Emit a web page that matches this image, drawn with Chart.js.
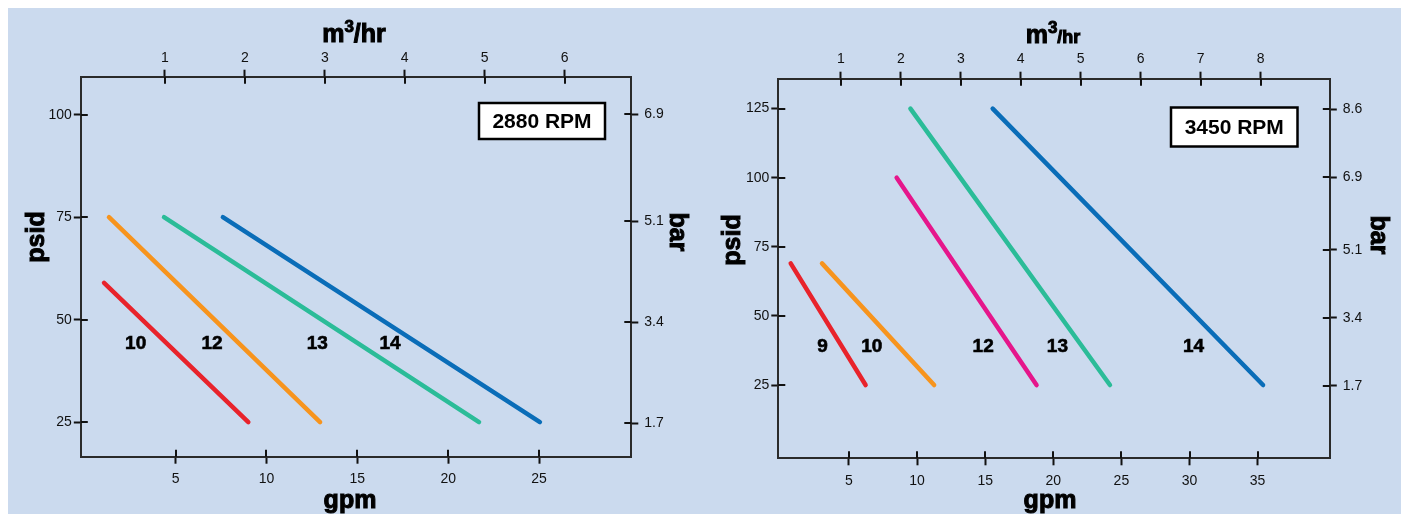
<!DOCTYPE html>
<html><head><meta charset="utf-8">
<script src="https://cdn.jsdelivr.net/npm/chart.js@4.4.1/dist/chart.umd.min.js"></script>
<style>
html,body{margin:0;padding:0;background:#fff;width:1401px;height:514px;overflow:hidden;}
#bg{position:absolute;left:8px;top:8px;width:1393px;height:506px;background:#cbdaee;}
.wrap{position:absolute;top:0;height:514px;}
canvas{display:block;}
</style></head><body>
<div id="bg"></div>
<div class="wrap" style="left:0;width:700px"><canvas id="c1" width="700" height="514"></canvas></div>
<div class="wrap" style="left:700px;width:701px"><canvas id="c2" width="701" height="514"></canvas></div>
<script>
// ---------- DATA ----------
const PSI_PER_BAR = 14.5038;
const GPM_PER_M3H = 4.40287;

// 2880 RPM chart
const leftRpm = '2880 RPM';
const leftSeries = ['10', '12', '13', '14'];
const leftStartGpm = [1.06, 1.33, 4.36, 7.6];
const leftStartPsi = [59, 75, 75, 75];
const leftEndGpm = [9.0, 12.95, 21.7, 25.05];
const leftEndPsi = [25, 25, 25, 25];
const leftLabelGpm = [2.8, 7.0, 12.8, 16.8];
const leftLabelPsi = [44, 44, 44, 44];
const leftGpmTicks = [5, 10, 15, 20, 25];
const leftM3Ticks = [1, 2, 3, 4, 5, 6];
const leftPsiTicks = [25, 50, 75, 100];
const leftBarTicks = ['1.7', '3.4', '5.1', '6.9'];

// 3450 RPM chart
const rightRpm = '3450 RPM';
const rightSeries = ['9', '10', '12', '13', '14'];
const rightStartGpm = [0.72, 3.02, 8.5, 9.51, 15.55];
const rightStartPsi = [69, 69, 100, 125, 125];
const rightEndGpm = [6.22, 11.25, 18.77, 24.16, 35.4];
const rightEndPsi = [25, 25, 25, 25, 25];
const rightLabelGpm = [3.05, 6.67, 14.85, 20.3, 30.3];
const rightLabelPsi = [39, 39, 39, 39, 39];
const rightGpmTicks = [5, 10, 15, 20, 25, 30, 35];
const rightM3Ticks = [1, 2, 3, 4, 5, 6, 7, 8];
const rightPsiTicks = [25, 50, 75, 100, 125];
const rightBarTicks = ['1.7', '3.4', '5.1', '6.9', '8.6'];

// ---------- STYLE ----------
const leftColors = ['#e8232b', '#f7941d', '#2bbc98', '#0a6db8'];
const rightColors = ['#e8232b', '#f7941d', '#e5168b', '#2bbc98', '#0a6db8'];
const FONT = '"Liberation Sans", Arial, Helvetica, sans-serif';
const INK = '#111';

function buildDatasets(sGpm, sPsi, eGpm, ePsi, names, colors) {
  return names.map((n, i) => ({
    label: n,
    data: [{x: sGpm[i], y: sPsi[i]}, {x: eGpm[i], y: ePsi[i]}],
    showLine: true, pointRadius: 0, borderWidth: 4.5,
    borderColor: colors[i], borderCapStyle: 'round', fill: false,
    xAxisID: 'x', yAxisID: 'y'
  }));
}

function setTicks(arr) {
  return (axis) => { axis.ticks = arr.map(v => ({value: Number(v)})); };
}
function labelsFrom(arr) {
  return (value, index) => String(arr[index]);
}

function makeScales(cfg) {
  const tickFont = {family: FONT, size: 14};
  const grid = {drawOnChartArea: false, drawTicks: true, tickLength: 7, tickWidth: 2, tickColor: INK};
  const border = {display: true, color: '#2a2a2a', width: 2};
  return {
    x: {
      type: 'linear', position: 'bottom', min: cfg.gpm[0], max: cfg.gpm[1],
      afterBuildTicks: setTicks(cfg.gpmTicks),
      afterFit: (s) => { s.height = cfg.box.bottom; },
      grid, border,
      ticks: {font: tickFont, color: INK, padding: cfg.pad.bottom, maxRotation: 0, autoSkip: false,
              callback: labelsFrom(cfg.gpmTicks)}
    },
    xTop: {
      type: 'linear', position: 'top', min: cfg.gpm[0] / GPM_PER_M3H, max: cfg.gpm[1] / GPM_PER_M3H,
      afterBuildTicks: setTicks(cfg.m3Ticks),
      afterFit: (s) => { s.height = cfg.box.top; },
      grid, border,
      ticks: {font: tickFont, color: INK, padding: cfg.pad.top, maxRotation: 0, autoSkip: false,
              callback: labelsFrom(cfg.m3Ticks)}
    },
    y: {
      type: 'linear', position: 'left', min: cfg.psi[0], max: cfg.psi[1],
      afterBuildTicks: setTicks(cfg.psiTicks),
      afterFit: (s) => { s.width = cfg.box.left; },
      grid, border,
      ticks: {font: tickFont, color: INK, padding: cfg.pad.left, autoSkip: false,
              callback: labelsFrom(cfg.psiTicks)}
    },
    yBar: {
      type: 'linear', position: 'right', min: cfg.psi[0] / PSI_PER_BAR, max: cfg.psi[1] / PSI_PER_BAR,
      afterBuildTicks: setTicks(cfg.barTicks),
      afterFit: (s) => { s.width = cfg.box.right; },
      grid, border,
      ticks: {font: tickFont, color: INK, padding: cfg.pad.right, autoSkip: false,
              callback: labelsFrom(cfg.barTicks)}
    }
  };
}

function drawTitle(ctx, text, x, y, size, rot) {
  ctx.save();
  ctx.translate(x, y);
  ctx.rotate(rot);
  ctx.font = `bold ${size}px ${FONT}`;
  ctx.textAlign = 'center';
  ctx.textBaseline = 'middle';
  ctx.fillStyle = '#000';
  ctx.strokeStyle = '#000';
  ctx.lineWidth = 1;
  ctx.fillText(text, 0, 0);
  ctx.strokeText(text, 0, 0);
  ctx.restore();
}

function drawM3(ctx, cx, base, mSize, supSize, hrSize) {
  ctx.save();
  ctx.fillStyle = '#000'; ctx.strokeStyle = '#000'; ctx.lineWidth = 1;
  ctx.textBaseline = 'alphabetic'; ctx.textAlign = 'left';
  ctx.font = `bold ${mSize}px ${FONT}`; const wm = ctx.measureText('m').width;
  ctx.font = `bold ${supSize}px ${FONT}`; const w3 = ctx.measureText('3').width;
  ctx.font = `bold ${hrSize}px ${FONT}`; const wh = ctx.measureText('/hr').width;
  let x = cx - (wm + w3 + wh) / 2;
  ctx.font = `bold ${mSize}px ${FONT}`; ctx.fillText('m', x, base); ctx.strokeText('m', x, base); x += wm;
  ctx.font = `bold ${supSize}px ${FONT}`; ctx.fillText('3', x, base - mSize * 0.42); ctx.strokeText('3', x, base - mSize * 0.42); x += w3;
  ctx.font = `bold ${hrSize}px ${FONT}`; ctx.fillText('/hr', x, base); ctx.strokeText('/hr', x, base);
  ctx.restore();
}

const decor = {
  id: 'decor',
  afterDraw(chart, args, o) {
    const ctx = chart.ctx, ca = chart.chartArea, S = chart.scales;
    ctx.save();
    // inner halves of the tick marks
    ctx.strokeStyle = INK; ctx.lineWidth = 2;
    const inner = 7;
    S.x.ticks.forEach(t => { const p = Math.round(S.x.getPixelForValue(t.value)); ctx.beginPath(); ctx.moveTo(p, ca.bottom); ctx.lineTo(p, ca.bottom - inner); ctx.stroke(); });
    S.xTop.ticks.forEach(t => { const p = Math.round(S.xTop.getPixelForValue(t.value)); ctx.beginPath(); ctx.moveTo(p, ca.top); ctx.lineTo(p, ca.top + inner); ctx.stroke(); });
    S.y.ticks.forEach(t => { const p = Math.round(S.y.getPixelForValue(t.value)); ctx.beginPath(); ctx.moveTo(ca.left, p); ctx.lineTo(ca.left + inner, p); ctx.stroke(); });
    S.yBar.ticks.forEach(t => { const p = Math.round(S.yBar.getPixelForValue(t.value)); ctx.beginPath(); ctx.moveTo(ca.right, p); ctx.lineTo(ca.right - inner, p); ctx.stroke(); });

    // series number labels
    ctx.fillStyle = '#000';
    ctx.font = `bold 19px ${FONT}`;
    ctx.textAlign = 'center'; ctx.textBaseline = 'middle';
    o.labels.forEach((txt, i) => {
      const px = S.x.getPixelForValue(o.labelGpm[i]);
      const py = S.y.getPixelForValue(o.labelPsi[i]);
      ctx.fillText(txt, px, py);
      ctx.strokeStyle = '#000'; ctx.lineWidth = 0.6; ctx.strokeText(txt, px, py);
    });

    // RPM box
    const b = o.rpmBox;
    ctx.fillStyle = '#fff';
    ctx.fillRect(b.x, b.y, b.w, b.h);
    ctx.strokeStyle = '#000'; ctx.lineWidth = 2.5;
    ctx.strokeRect(b.x, b.y, b.w, b.h);
    ctx.fillStyle = '#000';
    ctx.font = `bold 21px ${FONT}`;
    ctx.textAlign = 'center'; ctx.textBaseline = 'middle';
    ctx.fillText(o.rpm, b.x + b.w / 2, b.y + b.h / 2 + 1);
    ctx.restore();

    // axis titles
    const t = o.titles;
    drawM3(ctx, t.m3.x, t.m3.y, 25, 17, t.m3.hr);
    drawTitle(ctx, 'gpm', t.gpm.x, t.gpm.y, 25, 0);
    drawTitle(ctx, 'psid', t.psid.x, t.psid.y, 25, -Math.PI / 2);
    drawTitle(ctx, 'bar', t.bar.x, t.bar.y, 25, Math.PI / 2);
  }
};

function makeChart(id, datasets, cfg, deco) {
  return new Chart(document.getElementById(id), {
    type: 'scatter',
    data: {datasets},
    options: {
      responsive: false, animation: false,
      layout: {padding: 0},
      plugins: {legend: {display: false}, tooltip: {enabled: false}, decor: deco},
      scales: makeScales(cfg)
    },
    plugins: [decor]
  });
}

makeChart('c1',
  buildDatasets(leftStartGpm, leftStartPsi, leftEndGpm, leftEndPsi, leftSeries, leftColors),
  {
    gpm: [-0.22, 30.08], psi: [16.55, 109.3],
    gpmTicks: leftGpmTicks, m3Ticks: leftM3Ticks, psiTicks: leftPsiTicks, barTicks: leftBarTicks,
    box: {left: 80.8, right: 68.7, top: 76.7, bottom: 57.3},
    pad: {left: 2, right: 6, top: 3, bottom: 7.5}
  },
  {
    labels: leftSeries, labelGpm: leftLabelGpm, labelPsi: leftLabelPsi, rpm: leftRpm,
    rpmBox: {x: 479, y: 103, w: 126, h: 36},
    titles: {m3: {x: 354, y: 42, hr: 25}, gpm: {x: 350, y: 501}, psid: {x: 37, y: 237}, bar: {x: 677, y: 232}}
  });

makeChart('c2',
  buildDatasets(rightStartGpm, rightStartPsi, rightEndGpm, rightEndPsi, rightSeries, rightColors),
  {
    gpm: [-0.19, 40.3], psi: [-1.5, 135.8],
    gpmTicks: rightGpmTicks, m3Ticks: rightM3Ticks, psiTicks: rightPsiTicks, barTicks: rightBarTicks,
    box: {left: 78.3, right: 71.2, top: 78.7, bottom: 55.7},
    pad: {left: 2, right: 6, top: 4, bottom: 7}
  },
  {
    labels: rightSeries, labelGpm: rightLabelGpm, labelPsi: rightLabelPsi, rpm: rightRpm,
    rpmBox: {x: 471, y: 107.5, w: 126.5, h: 39},
    titles: {m3: {x: 353, y: 43, hr: 18}, gpm: {x: 350, y: 501}, psid: {x: 33, y: 240}, bar: {x: 678, y: 235}}
  });
</script>
</body></html>
